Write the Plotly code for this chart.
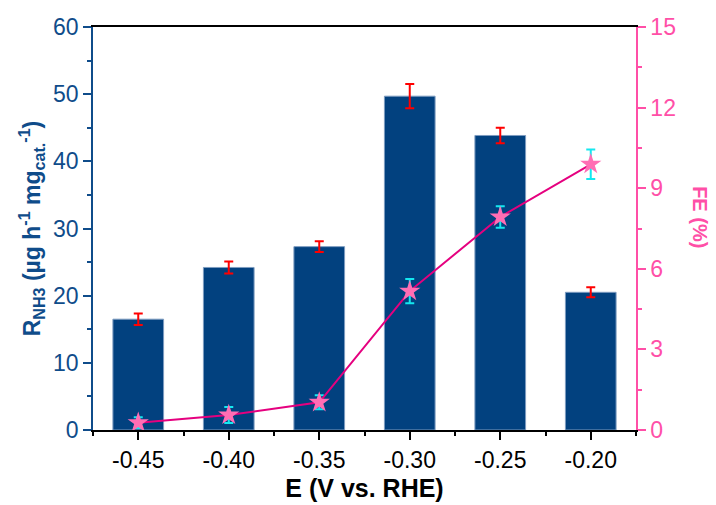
import plotly.graph_objects as go

# Data
potentials = [-0.45, -0.40, -0.35, -0.30, -0.25, -0.20]
x_tick_labels = ["-0.45", "-0.40", "-0.35", "-0.30", "-0.25", "-0.20"]
rate = [16.5, 24.2, 27.3, 49.7, 43.85, 20.5]
rate_err = [0.85, 0.9, 0.8, 1.8, 1.15, 0.75]
fe = [0.27, 0.56, 1.03, 5.17, 7.93, 9.89]
fe_err = [0.2, 0.3, 0.26, 0.45, 0.4, 0.55]
minor_x = [-0.475, -0.425, -0.375, -0.325, -0.275, -0.225, -0.175]

navy = "#02417F"
axis_navy = "#0F4C8A"
pink_axis = "#FF4FA7"
line_pink = "#E5007F"
star_pink = "#FF6EB4"
cyan = "#14E8F0"
font_family = "Liberation Sans, Arial, sans-serif"

fig = go.Figure()

fig.add_trace(go.Bar(
    x=potentials, y=rate, width=0.028,
    marker=dict(color=navy, line=dict(color="#7D9CC0", width=1)),
    error_y=dict(type="data", array=rate_err, color="#FF0000", thickness=2, width=4.5),
    yaxis="y", showlegend=False,
))

fig.add_trace(go.Scatter(
    x=potentials, y=fe, mode="lines+markers",
    line=dict(color=line_pink, width=2),
    marker=dict(symbol="star", size=16, color=star_pink, line=dict(width=0)),
    error_y=dict(type="data", array=fe_err, color=cyan, thickness=2, width=4.5),
    yaxis="y2", showlegend=False,
))

fig.update_layout(
    width=716, height=505,
    margin=dict(l=93, r=80, t=27, b=75, autoexpand=False),
    paper_bgcolor="white", plot_bgcolor="white",
    font=dict(family=font_family, size=23, color="black"),
    xaxis=dict(
        range=[-0.475, -0.175], automargin=False,
        tickmode="array", tickvals=potentials, ticktext=x_tick_labels,
        ticks="outside", ticklen=8, tickwidth=2, tickcolor="black",
        minor=dict(tickmode="array", tickvals=minor_x,
                   ticks="outside", ticklen=4, tickwidth=2, tickcolor="black"),
        showline=True, linecolor="black", linewidth=2, mirror=True,
        showgrid=False, zeroline=False,
        tickfont=dict(size=23, color="black"),
        title=dict(text="<b>E (V vs. RHE)</b>", font=dict(size=25, color="black"), standoff=8),
    ),
    yaxis=dict(
        range=[0, 60], dtick=10, tick0=0, automargin=False,
        ticks="outside", ticklen=8, tickwidth=1.5, tickcolor=axis_navy,
        minor=dict(dtick=5, ticks="outside", ticklen=4, tickwidth=1.5, tickcolor=axis_navy),
        showline=True, linecolor=axis_navy, linewidth=1.5,
        showgrid=False, zeroline=False,
        tickfont=dict(size=23, color=axis_navy),
        title=dict(text="<b>R<sub>NH3</sub> (µg h<sup>-1</sup> mg<sub>cat.</sub><sup>-1</sup>)</b>",
                   font=dict(size=23, color=axis_navy), standoff=6),
    ),
    yaxis2=dict(
        range=[0, 15], dtick=3, tick0=0, automargin=False,
        overlaying="y", side="right",
        ticks="outside", ticklen=8, tickwidth=1.5, tickcolor=pink_axis,
        minor=dict(dtick=1.5, ticks="outside", ticklen=4, tickwidth=1.5, tickcolor=pink_axis),
        showline=True, linecolor=pink_axis, linewidth=1.5,
        showgrid=False, zeroline=False,
        tickfont=dict(size=23, color=pink_axis),
    ),
    annotations=[dict(
        text="<b>FE (%)</b>", textangle=90, xref="paper", yref="paper",
        x=1.118, y=0.528, xanchor="center", yanchor="middle", showarrow=False,
        font=dict(size=20, color=pink_axis),
    )],
)

fig.write_html("out.html")
